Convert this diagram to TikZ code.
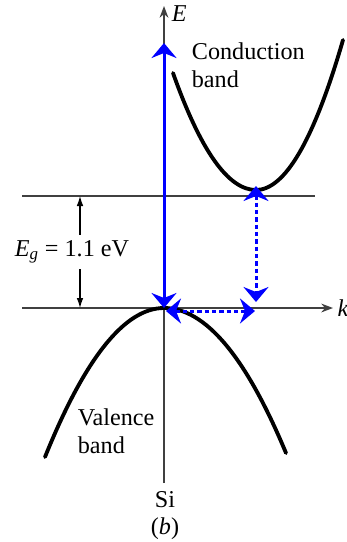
\documentclass[tikz,border=0pt]{standalone}
\usepackage{fontspec}
\setmainfont{Liberation Serif}
\usetikzlibrary{arrows.meta,positioning}
\definecolor{trans}{RGB}{0,0,255}

\begin{document}
\begin{tikzpicture}[x=.6pt,y=-.6pt,>=Stealth,
  font=\fontsize{14.5}{17}\selectfont,
  axis/.style={draw=black!75,line width=.9pt},
  level/.style={draw=black!75,line width=.9pt},
  band/.style={line width=2.3pt,line cap=round},
  jump/.style={trans,line width=1.8pt,{Stealth[length=9pt,width=15pt,inset=3pt]}-{Stealth[length=9pt,width=15pt,inset=3pt]}},
  phonon/.style={jump,dash pattern=on 2.6pt off 1.8pt}]
\useasboundingbox (0,0) rectangle (347,542);
% key points of the bands
\coordinate (vmax) at (164,308);
\coordinate (cmin) at (256,190);
\coordinate (emax) at (164,43);
% levels and axes
\draw[level] (22,196) -- (315,196);
\draw[axis,->] (22,308) -- (333,308) node[right=-1pt]{\textit{k}};
\draw[axis,->] (164,483) -- (164,6) node[right=1pt,pos=.985]{\textit{E}};
\node (si) at (165,500) {Si};
\node (fig) at (165,529) {(\textit{b})};
% band gap
\node (gap) at (72,252) {\textit{E}\textsubscript{\textit{g}} = 1.1 eV};
\coordinate (gtop) at (80,196);
\coordinate (gbot) at (80,308);
\draw[-{Latex[length=6pt,width=4pt]},line width=.7pt] (gap.north -| gtop) -- (gtop);
\draw[-{Latex[length=6pt,width=4pt]},line width=.7pt] (gap.south -| gbot) -- (gbot);
% bands
\draw[band] (173,73) .. controls (200.7,151) and (228.3,190) .. (cmin)
  .. controls (285,190) and (314,140) .. (343,40);
\draw[band] (45,457) .. controls (85,357.7) and (125,308) .. (vmax)
  .. controls (205.3,308) and (245.7,356.3) .. (286,453);
\node[align=left,anchor=north west] (cb) at (186,37) {Conduction\\band};
\node[align=left,anchor=north west] (vb) at (72,403) {Valence\\band};
% transitions
\draw[jump] (emax) -- (vmax);
\draw[phonon] (cmin) ++(0,-4) coordinate (ctop) (ctop) -- (256,302);
\draw[phonon] (166,311) -- (255,311);
\end{tikzpicture}
\end{document}
